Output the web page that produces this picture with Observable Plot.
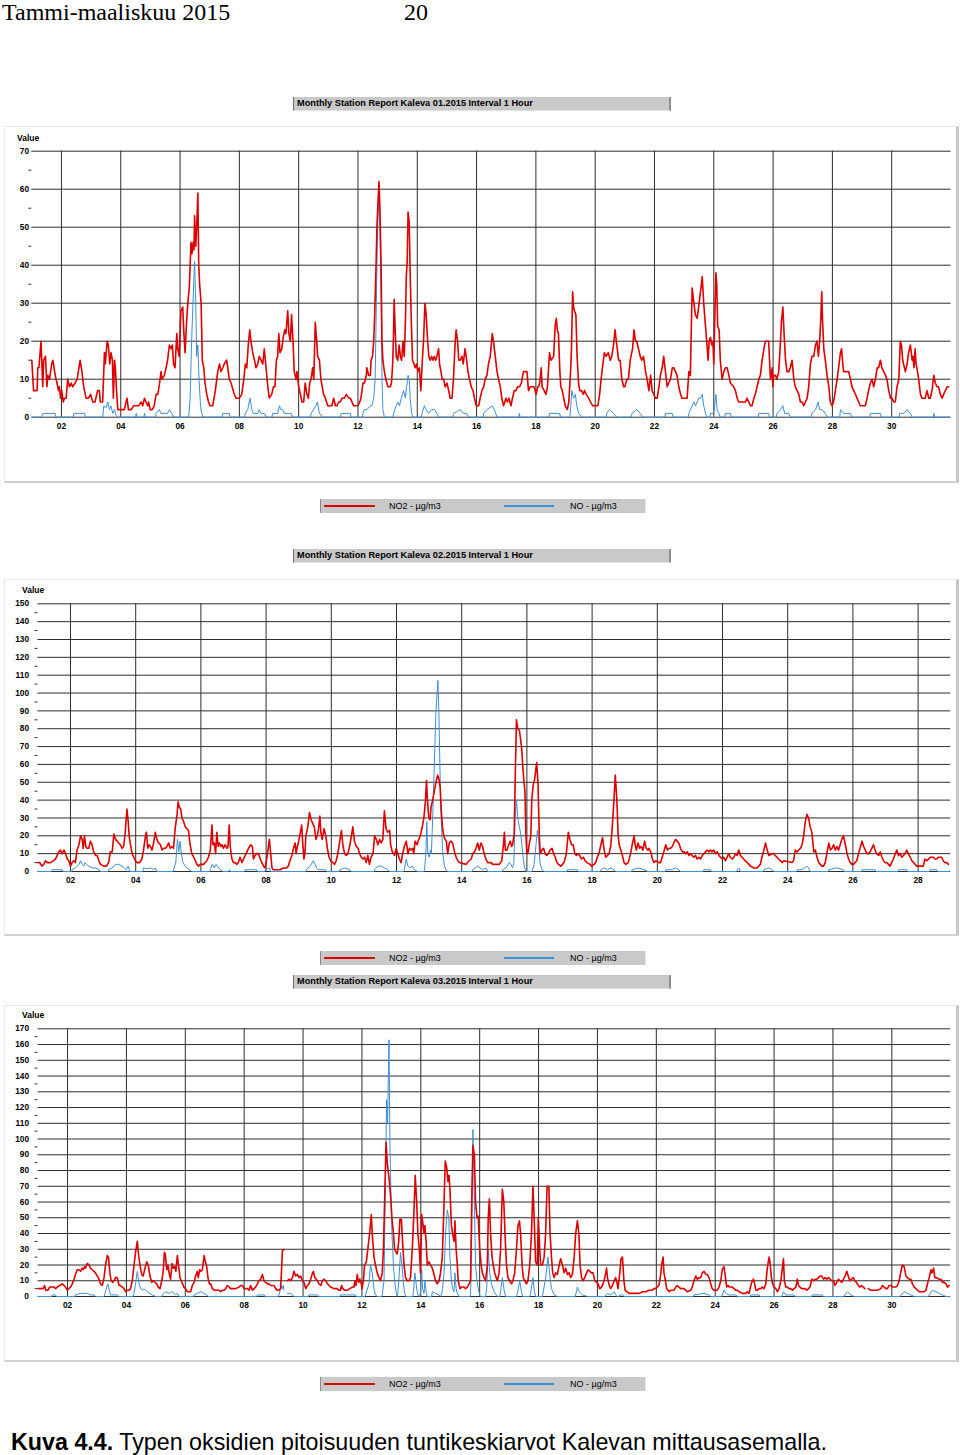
<!DOCTYPE html>
<html><head><meta charset="utf-8">
<script src="https://cdn.jsdelivr.net/npm/d3@7"></script>
<script src="https://cdn.jsdelivr.net/npm/@observablehq/plot@0.6"></script>
<style>
html,body{margin:0;padding:0;background:#fff;}
#page{position:relative;width:960px;height:1455px;overflow:hidden;font-family:"Liberation Sans",Arial,Helvetica,sans-serif;color:#000;}
.abs{position:absolute;}
.header{font-family:"Liberation Serif","Times New Roman",serif;font-size:24px;line-height:25px;white-space:nowrap;}
.title{height:14px;background:#c9c9c9;border-left:1px solid #6e6e6e;border-right:2px solid #8f8f8f;border-bottom:1px solid #e2e2e2;font-weight:bold;font-size:9.2px;line-height:13px;padding-left:3px;box-sizing:border-box;white-space:nowrap;}
.frame{border:1px solid #e8e8e8;border-right:3px solid #c6c6c6;border-bottom:2px solid #d0d0d0;box-sizing:border-box;background:#fff;}
.legend{height:14px;background:#c9c9c9;border-left:1px solid #8a8a8a;border-right:1px solid #e6e6e6;box-sizing:border-box;font-size:9px;white-space:nowrap;}
.legend span{position:absolute;top:1px;line-height:12px;}
.lg-line{position:absolute;}
.value{font-weight:bold;font-size:8.5px;line-height:9px;}
.panel svg text{font-weight:bold;fill:#000;}
.caption{font-size:24px;line-height:24px;white-space:nowrap;transform-origin:0 0;}
</style>
</head><body>
<div id="page">
  <div class="abs header" style="left:2px;top:0px;">Tammi-maaliskuu 2015</div>
  <div class="abs header" style="left:404px;top:0px;">20</div>
</div>
<script>
// ---------- tick arrays ----------
const janDays = [2,4,6,8,10,12,14,16,18,20,22,24,26,28,30];
const febDays = [2,4,6,8,10,12,14,16,18,20,22,24,26,28];
const marDays = [2,4,6,8,10,12,14,16,18,20,22,24,26,28,30];
const janYTicks = [0,10,20,30,40,50,60,70];
const janYMinor = [5,15,25,35,45,55,65];
const febYTicks = [0,10,20,30,40,50,60,70,80,90,100,110,120,130,140,150];
const febYMinor = [5,15,25,35,45,55,65,75,85,95,105,115,125,135,145];
const marYTicks = [0,10,20,30,40,50,60,70,80,90,100,110,120,130,140,150,160,170];
const marYMinor = [5,15,25,35,45,55,65,75,85,95,105,115,125,135,145,155,165];

const panelTitles = [
  "Monthly Station Report Kaleva 01.2015 Interval 1 Hour",
  "Monthly Station Report Kaleva 02.2015 Interval 1 Hour",
  "Monthly Station Report Kaleva 03.2015 Interval 1 Hour"
];
const seriesNames = ["NO2 - µg/m3", "NO - µg/m3"];

// ---------- January: [day of month (fractional), µg/m3] ----------
const janNO2 = [[1.00,15],[1.06,7],[1.09,7],[1.18,7],[1.20,13],[1.24,13],[1.31,20],[1.37,8],[1.40,15],[1.46,16],[1.51,8],[1.54,11],[1.60,10],[1.67,14],[1.71,15],[1.79,11],[1.85,9],[1.90,7],[1.93,8],[1.97,5],[2.01,7],[2.06,4],[2.10,5],[2.16,5],[2.21,10],[2.27,8],[2.33,9],[2.38,8],[2.46,9],[2.53,10],[2.57,12],[2.63,15],[2.69,12],[2.75,8],[2.83,5],[2.91,5],[2.98,6],[3.06,4],[3.13,4],[3.22,7],[3.28,7],[3.31,4],[3.39,4],[3.45,17],[3.48,14],[3.54,20],[3.58,19],[3.63,14],[3.67,17],[3.72,15],[3.75,5],[3.79,15],[3.82,13],[3.85,8],[3.90,2],[4.01,2],[4.12,2],[4.21,5],[4.26,2],[4.35,2],[4.43,3],[4.52,3],[4.60,3],[4.69,4],[4.74,3],[4.80,5],[4.85,4],[4.91,3],[4.94,4],[4.99,2],[5.06,2],[5.13,3],[5.19,6],[5.25,6],[5.31,9],[5.36,12],[5.39,10],[5.47,11],[5.53,13],[5.58,15],[5.64,19],[5.70,18],[5.74,19],[5.78,14],[5.83,13],[5.89,22],[5.92,18],[5.97,16],[6.03,28],[6.09,29],[6.13,22],[6.17,17],[6.20,22],[6.22,25],[6.26,30],[6.31,34],[6.37,46],[6.40,43],[6.44,46],[6.47,44],[6.49,53],[6.53,45],[6.56,50],[6.60,59],[6.63,40],[6.66,35],[6.71,30],[6.75,15],[6.80,13],[6.84,9],[6.90,6],[6.96,4],[7.01,3],[7.10,3],[7.19,7],[7.27,12],[7.33,14],[7.38,12],[7.44,13],[7.49,14],[7.57,15],[7.61,13],[7.66,10],[7.72,9],[7.83,6],[7.89,5],[8.00,5],[8.08,6],[8.15,10],[8.20,14],[8.25,13],[8.30,19],[8.35,23],[8.39,20],[8.45,17],[8.51,15],[8.56,13],[8.62,14],[8.67,16],[8.73,15],[8.79,14],[8.84,18],[8.90,13],[8.96,8],[9.01,5],[9.09,6],[9.15,8],[9.20,8],[9.25,15],[9.29,16],[9.33,22],[9.37,17],[9.43,18],[9.48,21],[9.53,23],[9.57,22],[9.63,28],[9.67,22],[9.72,20],[9.76,27],[9.81,20],[9.85,12],[9.91,10],[9.94,12],[10.00,8],[10.06,6],[10.11,4],[10.17,4],[10.22,9],[10.28,6],[10.33,5],[10.37,9],[10.42,10],[10.47,13],[10.51,10],[10.56,25],[10.61,20],[10.64,16],[10.70,15],[10.75,10],[10.84,6],[10.90,5],[10.98,3],
[11.07,3],[11.12,3],[11.18,5],[11.24,3],[11.29,3],[11.35,4],[11.40,4],[11.46,5],[11.54,5],[11.61,6],[11.69,5],[11.74,5],[11.80,4],[11.85,3],[11.92,3],[11.99,3],[12.06,4],[12.10,5],[12.17,9],[12.22,9],[12.28,11],[12.30,13],[12.36,11],[12.42,11],[12.44,15],[12.49,16],[12.53,20],[12.56,26],[12.61,40],[12.64,50],[12.67,56],[12.71,62],[12.74,55],[12.78,40],[12.81,20],[12.84,15],[12.89,12],[12.94,10],[13.01,8],[13.09,8],[13.13,9],[13.17,14],[13.20,22],[13.22,31],[13.26,22],[13.29,16],[13.34,15],[13.39,19],[13.43,16],[13.47,15],[13.52,20],[13.56,16],[13.60,25],[13.63,37],[13.66,41],[13.69,54],[13.73,51],[13.76,38],[13.80,25],[13.84,15],[13.89,14],[13.93,13],[13.98,14],[14.02,12],[14.07,13],[14.12,7],[14.17,15],[14.21,20],[14.26,30],[14.30,27],[14.35,20],[14.39,16],[14.44,15],[14.48,16],[14.53,15],[14.57,16],[14.62,15],[14.66,16],[14.72,18],[14.75,14],[14.80,12],[14.84,10],[14.89,10],[14.94,8],[15.00,9],[15.06,7],[15.11,5],[15.17,5],[15.22,10],[15.28,20],[15.31,23],[15.36,20],[15.40,15],[15.45,15],[15.51,16],[15.55,14],[15.61,18],[15.65,16],[15.71,12],[15.76,10],[15.82,8],[15.88,7],[15.93,5],[15.99,3],[16.07,3],[16.12,5],[16.18,7],[16.24,8],[16.29,10],[16.35,11],[16.40,14],[16.46,16],[16.53,22],[16.57,20],[16.63,16],[16.69,12],[16.74,10],[16.80,8],[16.85,5],[16.91,3],[16.99,5],[17.04,4],[17.09,5],[17.16,3],[17.21,5],[17.27,7],[17.33,7],[17.38,8],[17.45,8],[17.51,9],[17.58,12],[17.64,12],[17.70,12],[17.75,7],[17.81,8],[17.87,8],[17.94,8],[18.01,6],[18.06,8],[18.09,8],[18.13,9],[18.18,13],[18.21,8],[18.28,7],[18.34,6],[18.39,8],[18.46,17],[18.51,15],[18.60,16],[18.65,24],[18.69,26],[18.72,23],[18.76,22],[18.81,12],[18.84,8],[18.89,7],[18.94,5],[18.99,3],[19.06,2],[19.11,4],[19.17,12],[19.20,18],[19.24,33],[19.27,29],[19.30,28],[19.35,27],[19.39,16],[19.44,9],[19.48,7],[19.54,7],[19.60,6],[19.64,7],[19.70,6],[19.78,5],[19.84,4],[19.92,3],[19.98,3],[20.09,3],[20.15,6],[20.20,10],[20.26,14],[20.31,17],[20.37,16],[20.44,17],[20.51,15],[20.56,16],[20.62,19],[20.67,23],[20.73,19],[20.79,15],[20.84,15],[20.90,10],[20.96,8],[21.00,8],[21.07,10],[21.12,10],[21.18,15],[21.26,18],[21.31,23],[21.36,20],[21.40,20],[21.46,18],[21.52,16],[21.57,15],[21.63,16],
[21.70,12],[21.75,10],[21.81,7],[21.87,11],[21.92,7],[21.98,6],[22.03,5],[22.09,5],[22.15,8],[22.20,11],[22.26,13],[22.31,16],[22.37,12],[22.43,8],[22.48,9],[22.54,10],[22.60,13],[22.65,13],[22.71,12],[22.76,11],[22.82,8],[22.88,6],[22.93,5],[22.99,5],[23.10,5],[23.16,12],[23.21,11],[23.27,34],[23.33,30],[23.38,27],[23.44,26],[23.49,29],[23.55,33],[23.61,37],[23.66,30],[23.72,24],[23.78,18],[23.81,15],[23.84,20],[23.89,21],[23.93,19],[23.97,20],[24.00,14],[24.03,25],[24.07,38],[24.10,35],[24.13,24],[24.18,23],[24.22,15],[24.28,10],[24.34,12],[24.39,13],[24.45,13],[24.51,11],[24.56,9],[24.67,8],[24.73,7],[24.79,5],[24.84,4],[24.96,4],[25.07,4],[25.12,5],[25.18,4],[25.24,3],[25.29,3],[25.35,5],[25.40,6],[25.46,8],[25.52,10],[25.57,11],[25.63,15],[25.69,18],[25.74,20],[25.85,20],[25.91,10],[25.97,13],[25.99,8],[26.02,11],[26.08,11],[26.13,10],[26.19,12],[26.25,20],[26.28,25],[26.33,29],[26.37,22],[26.42,15],[26.47,12],[26.53,12],[26.58,13],[26.64,15],[26.70,10],[26.75,8],[26.81,7],[26.87,6],[26.92,4],[26.98,4],[27.03,3],[27.09,4],[27.15,5],[27.20,8],[27.26,14],[27.31,16],[27.37,16],[27.43,19],[27.48,20],[27.53,16],[27.57,20],[27.61,26],[27.64,33],[27.67,25],[27.71,18],[27.76,15],[27.82,11],[27.88,8],[27.93,4],[27.99,3],[28.04,4],[28.10,7],[28.16,10],[28.21,13],[28.27,17],[28.31,18],[28.35,14],[28.38,12],[28.49,12],[28.55,12],[28.61,10],[28.66,8],[28.72,7],[28.78,6],[28.83,5],[28.89,4],[28.94,3],[29.11,3],[29.17,5],[29.22,7],[29.28,9],[29.34,10],[29.39,8],[29.45,10],[29.51,13],[29.56,13],[29.62,15],[29.67,13],[29.73,12],[29.79,11],[29.84,10],[29.90,7],[29.96,5],[30.01,5],[30.07,4],[30.12,4],[30.18,8],[30.24,10],[30.29,20],[30.33,19],[30.37,15],[30.40,14],[30.46,12],[30.52,14],[30.57,17],[30.63,19],[30.69,15],[30.72,16],[30.75,13],[30.79,18],[30.82,14],[30.85,13],[30.91,10],[30.97,6],[31.02,5],[31.13,5],[31.19,7],[31.25,5],[31.30,5],[31.36,7],[31.42,11],[31.47,9],[31.53,8],[31.58,8],[31.64,6],[31.70,5],[31.75,6],[31.81,7],[31.87,8],[31.92,8]];

const janNO = [[1,0],[1.33,0],[1.37,1],[1.79,1],[1.82,0],[2.40,0],[2.42,1],[2.78,1],[2.81,0],[3.39,0],[3.43,3],[3.51,2.5],[3.56,4],[3.62,2],[3.67,3],[3.73,1],[3.79,2],[3.84,0.5],[3.90,0],[4.50,0],[4.52,1],[4.55,0],[4.78,0],[4.80,1],[4.83,0],[5.17,0],[5.19,1],[5.30,2],[5.36,1],[5.58,1],[5.64,2],[5.72,1],[5.79,0],[6.29,0],[6.34,5],[6.39,20],[6.46,35],[6.49,41],[6.53,30],[6.56,16],[6.60,19],[6.64,10],[6.69,3],[6.73,1],[6.78,0],[7.41,0],[7.44,1],[7.66,1],[7.69,0],[8.18,0],[8.20,1],[8.28,2],[8.36,5],[8.42,2],[8.47,1],[8.62,1],[8.67,2],[8.73,1],[8.84,1],[8.92,0],[9.10,0],[9.12,1],[9.29,1],[9.35,3],[9.40,2],[9.46,2],[9.52,1],[9.74,1],[9.80,0],[10.40,0],[10.42,1],[10.58,3],[10.63,4],[10.70,1],[10.81,0],[11.41,0],[11.43,1],[11.74,1],[11.77,0],[12.15,0],[12.17,1],[12.22,2],[12.30,2],[12.42,3],[12.47,3],[12.53,5],[12.58,10],[12.62,30],[12.66,50],[12.71,58],[12.74,50],[12.78,30],[12.81,10],[12.84,2],[12.89,0],[13.18,0],[13.20,1],[13.29,3],[13.35,4],[13.40,3],[13.46,5],[13.54,7],[13.60,5],[13.64,8],[13.69,11],[13.73,10],[13.76,5],[13.81,1],[13.85,0],[14.14,0],[14.16,1],[14.24,3],[14.30,2],[14.38,1],[14.49,2],[14.58,2],[14.66,1],[14.72,0],[15.20,0],[15.22,1],[15.45,2],[15.56,1],[15.67,1],[15.73,0],[16.22,0],[16.24,1],[16.35,2],[16.52,3],[16.60,2],[16.69,0],[17.42,0],[17.44,1],[17.47,0],[18.44,0],[18.46,1],[18.80,1],[18.83,0],[19.14,0],[19.16,1],[19.21,7],[19.27,5],[19.33,6],[19.38,3],[19.44,1],[19.55,0],[20.37,0],[20.39,1],[20.48,2],[20.62,1],[20.73,0],[21.22,0],[21.24,1],[21.40,2],[21.52,1],[21.61,0],[22.35,0],[22.37,1],[22.60,1],[22.63,0],[23.14,0],[23.16,1],[23.27,3],[23.33,4],[23.38,3],[23.44,4],[23.49,5],[23.55,5],[23.61,6],[23.66,3],[23.72,1],[23.78,0],[23.87,0],[23.89,1],[24.00,1],[24.07,6],[24.11,2],[24.17,1],[24.22,0],[24.37,0],[24.39,1],[24.56,1],[24.59,0],[25.50,0],[25.52,1],[25.85,1],[25.88,0],[26.11,0],[26.13,1],[26.25,2],[26.33,3],[26.39,1],[26.53,1],[26.58,0],[27.29,0],[27.31,1],[27.43,2],[27.52,4],[27.57,2],[27.65,2],[27.76,1],[27.82,0],[28.25,0],[28.27,2],[28.38,1],[28.61,1],[28.66,0],[29.26,0],[29.28,1],[29.62,1],[29.65,0],[30.25,0],[30.27,1],[30.40,1],[30.52,2],[30.63,1],[30.69,0],[31.40,0],[31.42,1],[31.45,0],[31.95,0]];

// ---------- February ----------
const febNO2 = [[1.00,5],[1.06,5],[1.12,3],[1.18,4],[1.23,6],[1.29,5],[1.39,5],[1.47,6],[1.54,7],[1.59,9],[1.64,11],[1.69,12],[1.74,10],[1.80,12],[1.85,10],[1.90,7],[1.95,6],[2.00,3],[2.05,5],[2.10,6],[2.15,5],[2.20,12],[2.26,15],[2.31,20],[2.36,18],[2.39,13],[2.43,20],[2.47,14],[2.51,13],[2.56,13],[2.61,17],[2.66,15],[2.71,11],[2.77,9],[2.82,9],[2.87,6],[2.92,4],[3.02,3],[3.10,3],[3.17,5],[3.22,11],[3.28,11],[3.33,21],[3.38,18],[3.43,17],[3.48,16],[3.53,15],[3.58,13],[3.63,14],[3.68,22],[3.73,35],[3.77,28],[3.80,20],[3.84,15],[3.89,10],[3.94,8],[3.99,6],[4.04,5],[4.12,5],[4.19,7],[4.24,12],[4.30,20],[4.33,22],[4.37,13],[4.41,15],[4.45,14],[4.50,12],[4.55,16],[4.60,22],[4.65,18],[4.70,16],[4.76,15],[4.81,12],[4.86,13],[4.91,13],[4.96,14],[5.01,16],[5.06,13],[5.11,14],[5.16,13],[5.21,24],[5.27,32],[5.30,39],[5.34,36],[5.38,35],[5.42,30],[5.47,28],[5.52,25],[5.57,24],[5.62,23],[5.67,15],[5.72,10],[5.78,8],[5.83,6],[5.88,4],[5.93,3],[5.98,4],[6.08,4],[6.13,5],[6.18,6],[6.23,8],[6.29,12],[6.34,26],[6.37,15],[6.41,16],[6.45,10],[6.49,22],[6.53,14],[6.57,16],[6.61,14],[6.65,15],[6.69,13],[6.74,15],[6.80,13],[6.83,14],[6.87,26],[6.90,14],[6.95,7],[7.00,5],[7.05,5],[7.10,4],[7.15,5],[7.20,8],[7.26,5],[7.31,7],[7.36,9],[7.41,11],[7.46,13],[7.53,15],[7.58,14],[7.61,7],[7.66,9],[7.71,10],[7.77,10],[7.82,7],[7.87,5],[7.92,3],[7.97,2],[8.02,7],[8.07,14],[8.10,18],[8.14,10],[8.18,2],[8.22,1],[8.43,1],[8.53,2],[8.63,2],[8.68,3],[8.73,6],[8.79,9],[8.84,13],[8.89,16],[8.92,10],[8.96,14],[9.00,17],[9.04,21],[9.09,26],[9.12,17],[9.16,7],[9.19,10],[9.22,20],[9.28,25],[9.33,33],[9.38,29],[9.43,27],[9.48,25],[9.53,18],[9.57,20],[9.61,24],[9.65,31],[9.68,22],[9.72,18],[9.78,24],[9.83,20],[9.88,13],[9.93,8],
[9.98,6],[10.05,5],[10.10,4],[10.15,6],[10.20,10],[10.26,17],[10.31,23],[10.36,14],[10.41,10],[10.46,9],[10.51,10],[10.56,14],[10.61,19],[10.66,25],[10.71,17],[10.77,14],[10.82,13],[10.87,10],[10.92,8],[10.97,7],[11.02,8],[11.07,5],[11.12,9],[11.17,4],[11.22,8],[11.28,10],[11.33,20],[11.38,18],[11.43,15],[11.48,18],[11.53,16],[11.58,18],[11.63,34],[11.68,24],[11.73,22],[11.79,23],[11.82,15],[11.87,11],[11.94,9],[11.99,13],[12.04,10],[12.09,7],[12.14,5],[12.19,10],[12.24,14],[12.30,17],[12.35,10],[12.40,13],[12.45,12],[12.50,13],[12.53,10],[12.57,17],[12.63,15],[12.68,18],[12.73,20],[12.79,25],[12.84,30],[12.89,40],[12.92,51],[12.95,40],[12.99,30],[13.03,29],[13.06,36],[13.11,40],[13.16,45],[13.21,50],[13.26,54],[13.30,52],[13.34,47],[13.37,35],[13.41,25],[13.45,20],[13.49,18],[13.53,17],[13.57,10],[13.62,16],[13.67,17],[13.72,16],[13.78,11],[13.83,8],[13.88,6],[13.93,5],[14.13,4],[14.18,5],[14.23,6],[14.29,7],[14.34,10],[14.39,11],[14.44,13],[14.49,16],[14.54,12],[14.59,16],[14.64,14],[14.69,10],[14.74,7],[14.80,5],[14.90,5],[14.95,4],[15.15,4],[15.23,6],[15.28,15],[15.31,22],[15.34,12],[15.39,12],[15.44,15],[15.49,17],[15.53,14],[15.56,15],[15.61,21],[15.65,60],[15.68,85],[15.72,80],[15.77,79],[15.80,75],[15.84,69],[15.87,60],[15.91,50],[15.94,45],[15.97,20],[16.00,10],[16.04,11],[16.07,15],[16.12,20],[16.15,40],[16.19,48],[16.24,52],[16.30,61],[16.34,50],[16.38,20],[16.41,10],[16.46,12],[16.51,13],[16.56,10],[16.61,9],[16.66,10],[16.71,12],[16.77,13],[16.82,10],[16.87,8],[16.92,5],[16.97,4],[17.04,3],[17.09,4],[17.14,5],[17.21,10],[17.27,22],[17.32,18],[17.37,15],[17.42,15],[17.47,10],[17.52,9],[17.57,10],[17.62,9],[17.67,7],[17.73,8],[17.79,6],[17.84,5],[17.94,4],[17.99,3],[18.06,4],[18.11,5],[18.16,8],[18.21,10],[18.27,15],[18.32,19],[18.37,12],[18.42,8],[18.47,9],[18.52,10],[18.57,14],[18.62,25],[18.67,40],[18.71,54],[18.76,40],[18.80,20],[18.83,15],[18.88,12],[18.93,9],[18.98,5],[19.03,4],[19.11,5],[19.18,10],[19.23,15],[19.29,20],[19.32,15],[19.36,12],[19.41,16],[19.46,13],[19.51,14],[19.56,12],[19.61,17],[19.66,13],[19.71,12],
[19.74,13],[19.80,11],[19.85,7],[19.90,5],[19.95,6],[20.05,5],[20.10,5],[20.15,8],[20.20,11],[20.26,15],[20.31,12],[20.36,13],[20.41,13],[20.46,14],[20.51,16],[20.56,18],[20.61,17],[20.66,16],[20.71,13],[20.77,11],[20.82,11],[20.87,10],[20.92,11],[20.97,9],[21.02,10],[21.07,9],[21.12,8],[21.17,9],[21.22,7],[21.28,8],[21.33,7],[21.38,9],[21.43,10],[21.48,11],[21.53,12],[21.58,11],[21.63,12],[21.68,11],[21.73,12],[21.79,10],[21.84,11],[21.89,9],[21.94,8],[21.99,7],[22.04,8],[22.09,6],[22.14,8],[22.19,10],[22.24,8],[22.30,7],[22.35,8],[22.40,10],[22.45,9],[22.50,12],[22.55,9],[22.60,8],[22.65,7],[22.70,6],[22.76,5],[22.81,4],[22.86,3],[22.96,2],[23.06,2],[23.11,3],[23.16,4],[23.21,8],[23.27,12],[23.32,16],[23.37,12],[23.42,9],[23.52,10],[23.57,10],[23.62,9],[23.67,8],[23.72,7],[23.78,6],[23.83,5],[23.88,6],[24.13,5],[24.18,6],[24.23,12],[24.29,11],[24.34,12],[24.39,13],[24.44,15],[24.49,20],[24.54,28],[24.59,32],[24.64,30],[24.69,25],[24.74,22],[24.80,11],[24.85,12],[24.90,8],[24.95,5],[25.00,4],[25.05,3],[25.10,3],[25.15,5],[25.20,10],[25.26,16],[25.31,12],[25.36,13],[25.41,15],[25.46,12],[25.51,14],[25.56,12],[25.61,15],[25.66,18],[25.71,20],[25.77,15],[25.82,10],[25.87,7],[25.92,5],[25.97,4],[26.02,4],[26.07,5],[26.12,6],[26.17,10],[26.22,13],[26.28,17],[26.33,14],[26.38,12],[26.43,10],[26.48,10],[26.53,11],[26.58,13],[26.63,15],[26.68,12],[26.73,10],[26.79,9],[26.84,11],[26.89,8],[26.94,6],[26.99,5],[27.04,5],[27.09,4],[27.14,3],[27.19,5],[27.24,7],[27.30,10],[27.35,12],[27.40,9],[27.45,10],[27.50,8],[27.55,9],[27.60,10],[27.65,12],[27.70,10],[27.76,8],[27.81,6],[27.86,5],[27.91,4],[27.96,3],[28.16,3],[28.21,7],[28.27,6],[28.32,7],[28.37,8],[28.47,8],[28.52,7],[28.57,7],[28.62,8],[28.72,8],[28.77,6],[28.82,5],[28.88,5],[28.93,4]];

const febNO = [[1,0],[1.42,0],[1.44,1],[1.74,1],[1.77,0],[2.03,0],[2.05,1],[2.15,2],[2.26,4],[2.31,6],[2.36,4],[2.41,3],[2.44,5],[2.49,4],[2.56,3],[2.66,2],[2.77,2],[2.87,1],[2.92,0],[3.15,0],[3.17,1],[3.28,2],[3.38,4],[3.48,4],[3.58,3],[3.65,2],[3.71,1],[3.77,3],[3.82,0],[4.22,0],[4.24,2],[4.35,1.5],[4.45,2],[4.55,1],[4.60,2],[4.65,0],[5.14,0],[5.16,1],[5.23,5],[5.28,18],[5.32,11],[5.36,17],[5.40,10],[5.45,5],[5.52,3],[5.57,2],[5.65,1],[5.72,0],[6.27,0],[6.29,1],[6.35,4],[6.41,2],[6.47,4],[6.54,2],[6.61,1],[6.67,0],[6.85,0],[6.87,1],[6.90,0],[7.34,0],[7.36,1],[7.71,1],[7.74,0],[7.96,0],[7.98,1],[8.10,2],[8.14,0],[9.22,0],[9.24,1],[9.35,3],[9.45,6],[9.50,4],[9.55,2],[9.60,1],[9.81,1],[9.86,0],[10.24,0],[10.26,1],[10.41,2],[10.56,1],[10.61,0],[11.31,0],[11.33,1],[11.43,3],[11.53,3],[11.63,2],[11.73,1],[11.79,0],[12.22,0],[12.24,1],[12.30,7],[12.35,3],[12.42,2],[12.48,3],[12.55,1],[12.65,0],[12.84,0],[12.86,1],[12.90,10],[12.93,28],[12.96,10],[13.00,8],[13.04,12],[13.07,10],[13.11,30],[13.16,60],[13.21,90],[13.27,107],[13.30,90],[13.33,60],[13.37,30],[13.42,10],[13.47,3],[13.52,1],[13.57,0],[14.32,0],[14.34,1],[14.49,3],[14.64,1],[14.74,2],[14.80,0],[15.24,0],[15.26,1],[15.36,2],[15.46,5],[15.51,4],[15.56,2],[15.60,5],[15.64,30],[15.68,40],[15.72,30],[15.77,25],[15.82,20],[15.87,10],[15.92,3],[15.97,0],[16.15,0],[16.17,1],[16.22,4],[16.28,15],[16.32,23],[16.36,18],[16.40,5],[16.46,1],[16.53,0],[17.22,0],[17.24,1],[17.55,1],[17.58,0],[18.25,0],[18.27,1],[18.37,2],[18.47,1],[18.57,2],[18.67,1],[18.72,0],[19.21,0],[19.23,1],[19.44,2],[19.59,1],[19.70,0],[20.24,0],[20.26,1],[20.46,1],[20.56,2],[20.66,1],[20.71,0],[21.41,0],[21.43,1],[21.63,1],[21.66,0],[22.43,0],[22.45,1],[22.50,2],[22.55,0],[23.25,0],[23.27,1],[23.42,2],[23.52,1],[23.57,0],[24.27,0],[24.29,1],[24.44,1],[24.59,3],[24.64,2],[24.69,0],[25.24,0],[25.26,1],[25.51,2],[25.71,1],[25.74,0],[26.26,0],[26.28,1],[26.68,1],[26.71,0],[27.38,0],[27.40,1],[27.65,1],[27.68,0],[28.35,0],[28.37,1],[28.57,1],[28.60,0],[28.95,0]];

// ---------- March ----------
const marNO2 = [[1.00,5],[1.08,5],[1.17,5],[1.22,7],[1.26,4],[1.33,4],[1.40,6],[1.54,6],[1.59,5],[1.65,6],[1.74,7],[1.82,8],[1.88,7],[1.93,6],[1.99,4],[2.05,5],[2.10,6],[2.16,8],[2.22,11],[2.27,14],[2.33,17],[2.39,17],[2.44,16],[2.50,18],[2.53,17],[2.58,19],[2.61,18],[2.67,21],[2.73,20],[2.78,18],[2.84,17],[2.90,16],[2.95,15],[3.01,13],[3.07,11],[3.12,8],[3.18,7],[3.24,12],[3.29,20],[3.35,26],[3.39,25],[3.44,15],[3.48,10],[3.53,9],[3.58,10],[3.63,12],[3.69,12],[3.75,7],[3.80,7],[3.86,6],[3.92,5],[3.97,3],[4.03,4],[4.09,4],[4.14,5],[4.20,10],[4.26,20],[4.31,28],[4.37,35],[4.41,27],[4.46,20],[4.52,14],[4.57,13],[4.63,18],[4.69,22],[4.74,20],[4.80,13],[4.86,9],[4.91,10],[4.97,9],[5.03,8],[5.08,6],[5.14,5],[5.20,10],[5.25,16],[5.29,28],[5.32,27],[5.37,17],[5.41,20],[5.46,14],[5.50,11],[5.55,21],[5.59,18],[5.64,19],[5.68,16],[5.73,26],[5.77,20],[5.82,12],[5.86,10],[5.91,8],[5.95,6],[6.01,5],[6.07,3],[6.18,3],[6.24,7],[6.30,9],[6.35,13],[6.41,16],[6.44,12],[6.49,17],[6.53,16],[6.58,17],[6.64,26],[6.68,22],[6.72,20],[6.77,12],[6.82,8],[6.86,8],[6.92,5],[6.98,4],[7.15,4],[7.20,3],[7.26,4],[7.32,4],[7.37,5],[7.43,7],[7.49,6],[7.54,5],[7.71,5],[7.83,6],[7.88,7],[7.94,7],[8.00,5],[8.11,5],[8.17,4],[8.22,7],[8.28,4],[8.34,5],[8.39,6],[8.45,8],[8.50,10],[8.56,11],[8.62,14],[8.67,10],[8.73,9],[8.79,8],[8.84,8],[8.90,7],[9.01,7],[9.07,5],[9.12,4],[9.18,4],[9.24,5],[9.30,29],[9.35,30],[9.41,null],[9.47,10],[9.52,11],[9.58,10],[9.64,12],[9.69,16],[9.75,13],[9.81,14],[9.86,12],[9.92,13],[9.98,10],[10.03,9],[10.09,5],[10.15,7],[10.20,8],[10.26,11],[10.32,15],[10.35,16],[10.40,12],[10.49,10],[10.54,8],[10.60,7],[10.66,10],[10.71,11],[10.77,10],[10.83,8],[10.88,7],[10.94,6],
[11.05,5],[11.16,5],[11.22,4],[11.27,4],[11.31,7],[11.35,5],[11.41,4],[11.50,4],[11.59,5],[11.67,6],[11.73,6],[11.76,10],[11.80,7],[11.84,14],[11.89,9],[11.93,11],[11.98,8],[12.00,5],[12.05,10],[12.09,20],[12.15,22],[12.20,30],[12.26,40],[12.32,52],[12.35,40],[12.41,25],[12.46,20],[12.52,15],[12.58,12],[12.63,10],[12.69,15],[12.73,30],[12.77,60],[12.82,98],[12.86,85],[12.92,75],[12.97,65],[13.02,50],[13.07,40],[13.11,30],[13.16,28],[13.20,27],[13.25,35],[13.29,49],[13.34,49],[13.38,35],[13.43,20],[13.48,12],[13.54,10],[13.60,10],[13.65,12],[13.71,30],[13.77,55],[13.81,77],[13.86,60],[13.90,40],[13.95,30],[13.99,15],[14.03,52],[14.06,48],[14.11,40],[14.14,45],[14.18,35],[14.22,20],[14.28,22],[14.33,20],[14.39,18],[14.45,14],[14.50,10],[14.56,8],[14.62,10],[14.67,15],[14.73,25],[14.79,60],[14.83,86],[14.88,82],[14.92,73],[14.96,77],[14.99,68],[15.04,45],[15.08,40],[15.13,35],[15.16,48],[15.20,30],[15.24,20],[15.27,10],[15.33,5],[15.39,6],[15.47,6],[15.52,5],[15.58,6],[15.64,8],[15.69,10],[15.73,60],[15.77,96],[15.82,90],[15.86,60],[15.91,50],[15.95,51],[16.00,30],[16.05,20],[16.09,15],[16.15,12],[16.20,10],[16.26,20],[16.29,50],[16.33,62],[16.37,40],[16.42,25],[16.46,20],[16.51,15],[16.56,12],[16.60,10],[16.66,15],[16.71,30],[16.77,68],[16.82,60],[16.86,40],[16.91,20],[16.96,12],[17.02,10],[17.08,8],[17.13,10],[17.19,15],[17.25,30],[17.30,45],[17.35,48],[17.39,40],[17.44,20],[17.48,12],[17.53,10],[17.59,8],[17.64,10],[17.70,20],[17.76,40],[17.81,70],[17.86,45],[17.90,22],[17.96,20],[17.99,50],[18.04,30],[18.07,20],[18.13,20],[18.19,25],[18.24,40],[18.29,70],[18.35,70],[18.39,40],[18.44,25],[18.48,15],[18.53,12],[18.58,15],[18.64,14],[18.70,20],[18.75,24],[18.81,20],[18.87,15],[18.92,18],[18.98,14],[19.04,15],[19.09,12],[19.15,14],[19.21,25],[19.26,40],[19.32,48],[19.37,40],[19.41,20],[19.46,12],[19.51,10],[19.57,12],[19.63,15],[19.68,17],[19.74,16],[19.80,15],[19.85,15],[19.91,10],[19.97,9],[20.02,8],[20.08,5],[20.14,6],[20.19,8],[20.25,12],[20.31,18],[20.34,12],[20.40,7],[20.45,5],[20.51,7],[20.57,10],[20.62,12],[20.66,9],[20.70,5],[20.76,15],[20.80,24],[20.85,25],[20.90,10],[20.94,4],[21.00,3],[21.08,2],[21.30,2],[21.42,2],[21.53,3],[21.64,3],[21.76,4],
[21.81,4],[21.86,4],[21.92,5],[21.98,5],[22.03,6],[22.09,7],[22.15,14],[22.18,20],[22.23,25],[22.26,15],[22.31,10],[22.35,5],[22.40,4],[22.44,3],[22.49,4],[22.60,4],[22.66,6],[22.71,7],[22.77,6],[22.83,5],[22.94,5],[23.00,4],[23.05,3],[23.17,4],[23.22,6],[23.28,10],[23.34,13],[23.39,11],[23.45,12],[23.51,12],[23.56,15],[23.62,16],[23.68,14],[23.73,14],[23.79,12],[23.85,8],[23.90,5],[23.96,4],[24.07,4],[24.13,6],[24.19,10],[24.24,17],[24.30,19],[24.35,12],[24.39,6],[24.44,7],[24.48,6],[24.58,6],[24.64,5],[24.70,4],[24.75,4],[24.81,3],[24.92,2],[25.04,2],[25.09,3],[25.15,2],[25.21,7],[25.26,10],[25.30,11],[25.34,8],[25.38,4],[25.43,4],[25.49,5],[25.55,5],[25.60,6],[25.66,5],[25.72,8],[25.77,18],[25.83,25],[25.86,22],[25.91,12],[25.95,8],[26.00,6],[26.06,5],[26.11,3],[26.17,5],[26.23,10],[26.27,16],[26.32,24],[26.35,10],[26.40,6],[26.45,6],[26.51,5],[26.57,5],[26.62,4],[26.68,5],[26.74,6],[26.79,11],[26.83,7],[26.88,6],[26.94,5],[27.05,5],[27.11,4],[27.17,5],[27.22,6],[27.28,11],[27.34,10],[27.39,11],[27.45,11],[27.51,12],[27.56,13],[27.62,13],[27.68,11],[27.73,12],[27.79,11],[27.85,12],[27.90,11],[27.96,10],[28.02,10],[28.07,7],[28.13,9],[28.19,11],[28.24,10],[28.30,9],[28.36,11],[28.41,13],[28.47,16],[28.52,13],[28.57,10],[28.63,11],[28.69,12],[28.74,10],[28.80,9],[28.86,7],[28.91,6],[28.97,7],[29.03,6],[29.08,5],[29.14,null],[29.20,5],[29.29,4],[29.51,4],[29.63,5],[29.68,7],[29.74,6],[29.80,5],[29.85,5],[29.91,7],[29.97,7],[30.02,6],[30.14,6],[30.19,7],[30.25,10],[30.31,16],[30.36,20],[30.42,19],[30.48,13],[30.53,12],[30.59,11],[30.65,11],[30.70,8],[30.76,6],[30.82,5],[30.87,4],[30.93,3],[31.10,3],[31.16,4],[31.21,8],[31.27,12],[31.33,17],[31.37,15],[31.42,18],[31.46,12],[31.51,12],[31.61,11],[31.67,11],[31.72,9],[31.78,9],[31.84,8],[31.89,6],[31.95,7]];

const marNO = [[1,0],[1.46,0],[1.48,1],[1.59,1],[1.62,0],[2.25,0],[2.27,1],[2.44,2],[2.67,2],[2.78,1],[2.90,1],[2.95,0],[3.24,0],[3.26,1],[3.33,6],[3.37,8],[3.42,4],[3.46,1],[3.69,1],[3.75,0],[4.22,0],[4.26,2],[4.31,8],[4.37,16],[4.43,8],[4.48,5],[4.54,4],[4.60,5],[4.65,4],[4.71,3],[4.77,2],[4.88,1],[4.99,0],[5.20,0],[5.22,1],[5.28,2],[5.33,3],[5.45,2],[5.56,3],[5.62,2],[5.67,1],[5.73,2],[5.79,0],[6.28,0],[6.30,1],[6.41,2],[6.53,3],[6.64,2],[6.73,1],[6.77,0],[8.43,0],[8.45,1],[8.68,1],[8.71,0],[9.16,0],[9.18,1],[9.24,5],[9.27,7],[9.30,5],[9.33,7],[9.35,4],[9.41,null],[9.47,2],[9.58,2],[9.64,1],[9.69,0],[10.18,0],[10.20,1],[10.49,1],[10.52,0],[11.25,0],[11.27,1],[11.78,1],[11.81,0],[12.10,0],[12.12,1],[12.24,8],[12.29,20],[12.35,15],[12.41,5],[12.46,1],[12.52,0],[12.67,0],[12.69,1],[12.75,10],[12.79,60],[12.84,125],[12.87,110],[12.92,163],[12.95,100],[12.99,60],[13.02,40],[13.07,20],[13.11,10],[13.16,3],[13.20,0],[13.22,2],[13.27,15],[13.31,28],[13.36,20],[13.41,8],[13.45,2],[13.50,0],[13.73,0],[13.75,3],[13.80,15],[13.86,5],[13.90,1],[13.97,0],[13.99,3],[14.03,17],[14.06,5],[14.11,2],[14.14,10],[14.18,3],[14.22,0],[14.37,0],[14.39,3],[14.50,2],[14.62,1],[14.66,0],[14.70,1],[14.74,5],[14.79,15],[14.84,40],[14.90,55],[14.95,50],[14.99,25],[15.04,10],[15.08,5],[15.13,3],[15.16,15],[15.20,5],[15.24,2],[15.30,0],[15.67,0],[15.69,1],[15.73,40],[15.77,106],[15.82,60],[15.86,20],[15.91,10],[15.95,5],[16.00,1],[16.03,0],[16.20,0],[16.24,5],[16.29,30],[16.34,15],[16.40,8],[16.49,3],[16.60,0],[16.68,0],[16.71,3],[16.77,12],[16.83,4],[16.88,0],[17.25,0],[17.28,2],[17.36,10],[17.42,3],[17.46,0],[17.70,0],[17.73,2],[17.81,12],[17.86,3],[17.90,0],[18.13,0],[18.16,3],[18.24,12],[18.32,25],[18.39,12],[18.44,5],[18.53,1],[18.64,0],[19.24,0],[19.26,1],[19.32,6],[19.38,3],[19.49,1],[19.66,0],[20.26,0],[20.28,1],[20.34,2],[20.45,1],[20.57,3],[20.62,1],[20.68,0],[20.74,0],[20.76,1],[20.85,1],[20.91,0],[23.26,0],[23.28,1],[23.62,2],[23.79,1],[23.85,0],[24.22,0],[24.24,1],[24.30,4],[24.36,2],[24.47,1],[24.70,1],[24.75,0],[25.19,0],[25.21,1],[25.49,1],[25.52,0],[26.26,0],[26.28,1],[26.32,3],[26.40,1],[26.68,1],[26.71,0],[27.28,0],[27.30,1],[27.64,1],[27.67,0],[28.38,0],[28.40,1],[28.49,3],[28.61,1],[28.72,0],[30.29,0],[30.31,1],[30.42,3],[30.53,2],[30.65,1],[30.76,0],[31.25,0],[31.27,1],[31.38,4],[31.50,3],[31.61,2],[31.72,1],[31.84,0],[31.95,0]];

// ---------- layout ----------
const page = document.getElementById("page");
function div(cls, style, html) {
  const d = document.createElement("div");
  d.className = "abs " + cls;
  d.setAttribute("style", style);
  if (html != null) d.innerHTML = html;
  page.appendChild(d);
  return d;
}

const RED = "#dc0000", BLUE = "#3d8fd6";

const panels = [
  {title: panelTitles[0], titleTop: 97, frameTop: 126, legendTop: 499, no2: janNO2, no: janNO,
   xEnd: 32, days: janDays, yMax: 70, yTicks: janYTicks, yMinor: janYMinor,
   ml: 31.3, mr: 9.5, mt: 24.7, mb: 65.3, valueLeft: 17, valueTop: 134},
  {title: panelTitles[1], titleTop: 549, frameTop: 579, legendTop: 951, no2: febNO2, no: febNO,
   xEnd: 29, days: febDays, yMax: 150, yTicks: febYTicks, yMinor: febYMinor,
   ml: 37.4, mr: 9.8, mt: 24.3, mb: 64, valueLeft: 22, valueTop: 586},
  {title: panelTitles[2], titleTop: 975, frameTop: 1005, legendTop: 1377, no2: marNO2, no: marNO,
   xEnd: 32, days: marDays, yMax: 170, yTicks: marYTicks, yMinor: marYMinor,
   ml: 37.6, mr: 9.8, mt: 23.3, mb: 65, valueLeft: 22, valueTop: 1011}
];

const frameH = 356;
for (const p of panels) {
  div("title", `left:293px;top:${p.titleTop}px;width:378px;`, p.title);
  div("frame", `left:4px;top:${p.frameTop}px;width:955px;height:${frameH + 1}px;`);
  div("value", `left:${p.valueLeft}px;top:${p.valueTop}px;`, "Value");
  const lg = div("legend", `left:320px;top:${p.legendTop}px;width:326px;`);
  lg.innerHTML =
    `<div class="lg-line" style="left:3px;top:6px;width:51px;height:2px;background:${RED};"></div>` +
    `<span style="left:68px;">${seriesNames[0]}</span>` +
    `<div class="lg-line" style="left:183px;top:6px;width:50px;height:1.5px;background:${BLUE};"></div>` +
    `<span style="left:249px;">${seriesNames[1]}</span>`;

  const svg = Plot.plot({
    width: 960, height: frameH,
    marginLeft: p.ml, marginRight: p.mr, marginTop: p.mt, marginBottom: p.mb,
    x: {domain: [1, p.xEnd]},
    y: {domain: [0, p.yMax]},
    style: {fontFamily: "Liberation Sans, Arial, sans-serif", background: "transparent", overflow: "visible"},
    marks: [
      Plot.ruleY(p.yTicks, {stroke: "#2e2e2e", strokeWidth: 1}),
      Plot.ruleX(p.days, {stroke: "#2e2e2e", strokeWidth: 1}),
      Plot.axisY({ticks: p.yMinor, tickSize: 3, tickFormat: () => "", label: null, stroke: "#333"}),
      Plot.axisY({ticks: p.yTicks, tickSize: 0, tickPadding: p.ml - 28.5, fontSize: 8.3, fontWeight: "bold", label: null}),
      Plot.axisX({ticks: p.days, tickSize: 0, tickPadding: 6, fontSize: 8.3, fontWeight: "bold", label: null,
                  tickFormat: d => String(d).padStart(2, "0")}),
      Plot.line(p.no, {x: d => d[0], y: d => d[1], stroke: BLUE, strokeWidth: 1}),
      Plot.line(p.no2, {x: d => d[0], y: d => d[1], stroke: RED, strokeWidth: 1.6})
    ]
  });
  const holder = div("panel", `left:0px;top:${p.frameTop}px;width:960px;height:${frameH}px;`);
  holder.appendChild(svg);
}

const cap = div("caption", "left:11px;top:1430px;", "<b>Kuva 4.4.</b> Typen oksidien pitoisuuden tuntikeskiarvot Kalevan mittausasemalla.");
const w = cap.getBoundingClientRect().width;
cap.style.transform = `scaleX(${(816 / w).toFixed(4)})`;
</script>
</body></html>
